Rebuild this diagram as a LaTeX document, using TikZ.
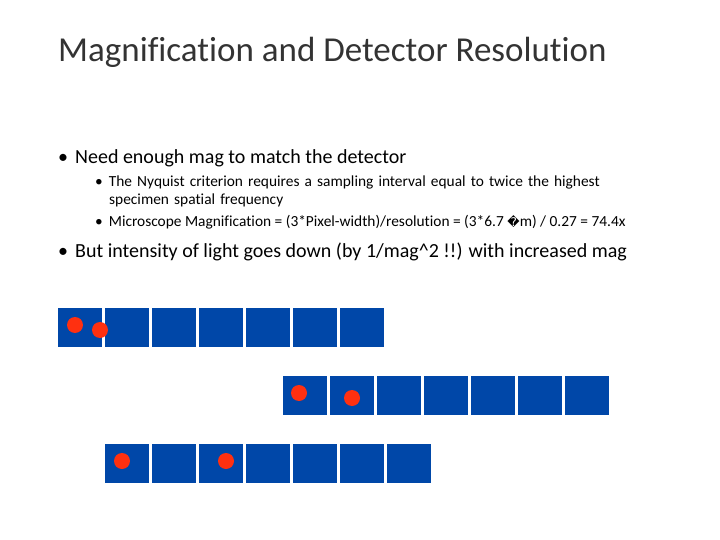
\documentclass[tikz,border=0pt]{standalone}
\usepackage{fontspec}
\setmainfont[Ligatures=NoCommon]{Carlito}
\newfontfamily\dvs{DejaVu Sans}
\definecolor{sqblue}{HTML}{0047A8}
\definecolor{dotred}{HTML}{FF3010}
\begin{document}
\begin{tikzpicture}[x=1pt,y=-1pt,
  sq/.style={fill=sqblue,draw=none},
  dot/.style={circle,fill=dotred,inner sep=0pt,minimum size=16pt},
  txt/.style={anchor=base west,inner sep=0pt}]
\useasboundingbox (0,0) rectangle (720,540);
\node[txt,font=\fontsize{35}{40}\selectfont,text=black!80] (title) at (58,62) {Magnification and Detector Resolution};
\node[txt,font=\fontsize{20}{24}\selectfont] (b1) at (58,164) {•\hspace{7pt}Need enough mag to match the detector};
\node[txt,font=\fontsize{15.4}{18}\selectfont,align=left,text width=580pt] (s1) at (95,187) {•\hspace{6pt}The Nyquist criterion requires a sampling interval equal to twice the highest\\\hspace{14pt}specimen spatial frequency};
\node[txt,font=\fontsize{15.4}{18}\selectfont] (s2) at (95,226) {•\hspace{6pt}Microscope Magnification = (3*Pixel-width)/resolution = (3*6.7 {\dvs\fontsize{12}{13}\selectfont �}m) / 0.27 = 74.4x};
\node[txt,font=\fontsize{20}{24}\selectfont] (b2) at (58,258) {•\hspace{7pt}But intensity of light goes down (by 1/mag\^{}2 !!) with increased mag};
\foreach \i in {0,...,6}{
  \fill[sq] (58+47*\i,308) rectangle ++(44,39);
  \fill[sq] (283+47*\i,376) rectangle ++(44,39);
  \fill[sq] (105+47*\i,444) rectangle ++(44,39);
}
\node[dot] (d1) at (75,325) {};
\node[dot] (d2) at (100,330) {};
\node[dot] (d3) at (299,393) {};
\node[dot] (d4) at (352,398) {};
\node[dot] (d5) at (122,461) {};
\node[dot] (d6) at (226,461) {};
\end{tikzpicture}
\end{document}
